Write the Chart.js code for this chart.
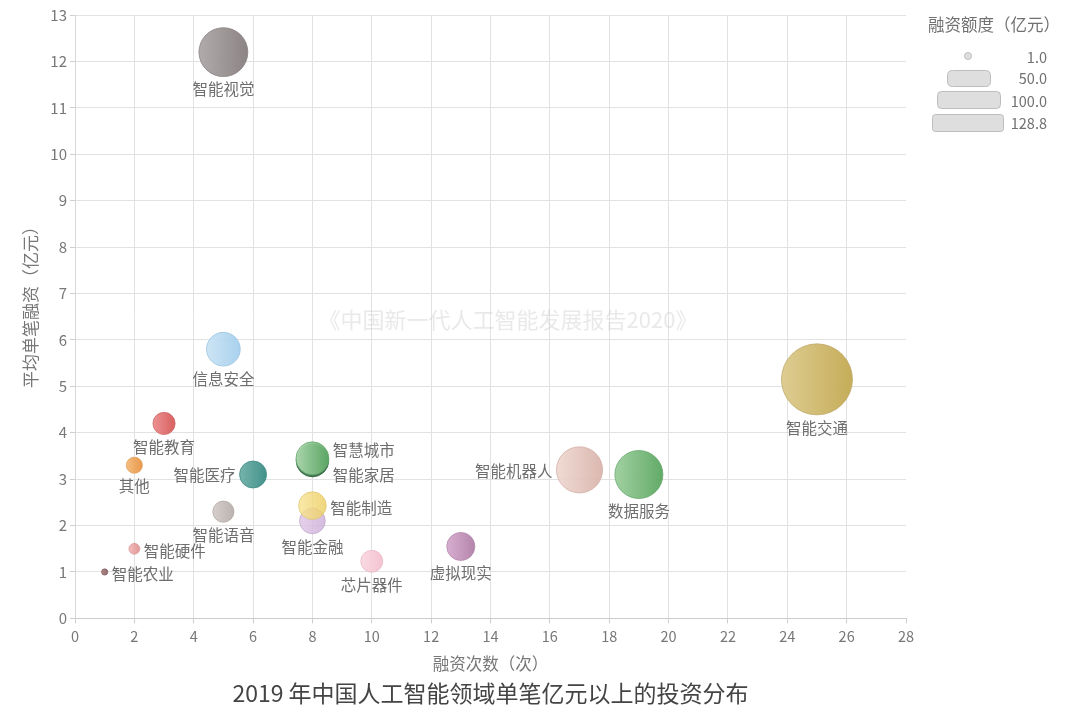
<!DOCTYPE html>
<html>
<head>
<meta charset="utf-8">
<script src="https://cdn.jsdelivr.net/npm/chart.js@4.4.1/dist/chart.umd.min.js"></script>
<style>
html,body{margin:0;padding:0;background:#fff;}
#wrap{width:1080px;height:712px;position:relative;}
</style>
</head>
<body>
<div id="wrap"><canvas id="c" width="1080" height="712"></canvas></div>
<script>
// ---- data ----
const categories = ['智能家居','智慧城市','智能视觉','信息安全','智能教育','其他','智能医疗','智能金融','智能制造','智能语音','智能硬件','智能农业','芯片器件','虚拟现实','智能机器人','数据服务','智能交通'];
const dealCounts = [8, 8, 5, 5, 3, 2, 6, 8, 8, 5, 2, 1, 10, 13, 17, 19, 25];
const avgAmounts = [3.40, 3.45, 12.2, 5.8, 4.2, 3.3, 3.1, 2.1, 2.43, 2.3, 1.5, 1.0, 1.23, 1.55, 3.2, 3.1, 5.15];
const xTicks = [0,2,4,6,8,10,12,14,16,18,20,22,24,26,28];
const yTicks = [0,1,2,3,4,5,6,7,8,9,10,11,12,13];
const legendValues = [1.0, 50.0, 100.0, 128.8];

// ---- styles ----
const FONT = '"Noto Sans CJK SC", "Noto Sans", sans-serif';
const colorStops = [
  ['rgba(70,120,80,0.95)','rgba(50,100,65,0.95)'],
  ['rgba(178,220,180,0.92)','rgba(92,170,100,0.92)'],
  ['rgba(172,166,166,0.95)','rgba(134,126,126,0.95)'],
  ['rgba(200,226,244,0.9)','rgba(160,204,236,0.9)'],
  ['rgba(236,140,140,0.95)','rgba(214,88,88,0.95)'],
  ['rgba(244,186,120,0.95)','rgba(232,146,66,0.95)'],
  ['rgba(110,176,168,0.95)','rgba(58,140,132,0.95)'],
  ['rgba(224,200,232,0.85)','rgba(204,176,216,0.85)'],
  ['rgba(248,228,150,0.82)','rgba(236,206,96,0.82)'],
  ['rgba(212,204,200,0.95)','rgba(182,174,170,0.95)'],
  ['rgba(244,184,184,0.95)','rgba(224,146,146,0.95)'],
  ['rgba(170,130,130,0.95)','rgba(140,100,100,0.95)'],
  ['rgba(250,214,224,0.9)','rgba(242,188,204,0.9)'],
  ['rgba(214,170,206,0.95)','rgba(176,126,166,0.95)'],
  ['rgba(238,216,208,0.92)','rgba(216,178,170,0.92)'],
  ['rgba(156,206,156,0.95)','rgba(90,166,96,0.95)'],
  ['rgba(220,202,140,0.95)','rgba(194,168,80,0.95)']
];
const borderCols = ['#2f6a40','#6aa870','#8a8282','#9cc4e0','#d07070','#e0a060','#3f8a84','#c0a8cc','#e0c870','#b4aca8','#d89c9c','#8a6a6a','#e8b8c6','#b48cac','#d4b0a8','#6aaa70','#c0aa6a'];
// label placement: b = below, r = right, l = left, ru = right-up, rd = right-down
const labelPlace = ['rd','ru','b','b','b','b','l','b','r','b','r','r','b','b','l','b','b'];

const RADIUS_K = 35.5 / Math.sqrt(128.8);

const points = categories.map((n, i) => ({
  x: dealCounts[i],
  y: avgAmounts[i],
  r: RADIUS_K * Math.sqrt(dealCounts[i] * avgAmounts[i])
}));

const bubbleLabels = {
  id: 'bubbleLabels',
  afterDatasetsDraw(chart) {
    const ctx = chart.ctx;
    const meta = chart.getDatasetMeta(0);
    ctx.save();
    ctx.font = '15.5px ' + FONT;
    ctx.fillStyle = '#6e6e6e';
    meta.data.forEach((el, i) => {
      const r = el.options.radius;
      const p = labelPlace[i];
      const t = categories[i];
      if (p === 'b') {
        ctx.textAlign = 'center'; ctx.textBaseline = 'middle';
        ctx.fillText(t, el.x, el.y + r + 13);
      } else if (p === 'r') {
        ctx.textAlign = 'left'; ctx.textBaseline = 'middle';
        ctx.fillText(t, el.x + r + 4, el.y + 2);
      } else if (p === 'l') {
        ctx.textAlign = 'right'; ctx.textBaseline = 'middle';
        ctx.fillText(t, el.x - r - 4, el.y + 1);
      } else if (p === 'ru') {
        ctx.textAlign = 'left'; ctx.textBaseline = 'middle';
        ctx.fillText(t, el.x + r + 4, el.y - 8);
      } else if (p === 'rd') {
        ctx.textAlign = 'left'; ctx.textBaseline = 'middle';
        ctx.fillText(t, el.x + r + 4, el.y + 15);
      }
    });
    ctx.restore();
  }
};

const watermark = {
  id: 'watermark',
  beforeDatasetsDraw(chart) {
    const ctx = chart.ctx;
    ctx.save();
    ctx.font = '22px ' + FONT;
    ctx.fillStyle = 'rgba(200,200,200,0.4)';
    ctx.textAlign = 'center'; ctx.textBaseline = 'middle';
    ctx.fillText('《中国新一代人工智能发展报告2020》', 508, 320);
    ctx.restore();
  }
};

const yTitle = {
  id: 'yTitle',
  afterDraw(chart) {
    const ctx = chart.ctx;
    ctx.save();
    ctx.translate(31, 303);
    ctx.rotate(-Math.PI / 2);
    ctx.font = '17px ' + FONT;
    ctx.fillStyle = '#777';
    ctx.textAlign = 'center'; ctx.textBaseline = 'middle';
    ctx.fillText('平均单笔融资（亿元）', 0, 0);
    ctx.restore();
  }
};

function roundRect(ctx, x, y, w, h, rad) {
  ctx.beginPath();
  ctx.moveTo(x + rad, y);
  ctx.lineTo(x + w - rad, y);
  ctx.quadraticCurveTo(x + w, y, x + w, y + rad);
  ctx.lineTo(x + w, y + h - rad);
  ctx.quadraticCurveTo(x + w, y + h, x + w - rad, y + h);
  ctx.lineTo(x + rad, y + h);
  ctx.quadraticCurveTo(x, y + h, x, y + h - rad);
  ctx.lineTo(x, y + rad);
  ctx.quadraticCurveTo(x, y, x + rad, y);
  ctx.closePath();
}

const sizeLegend = {
  id: 'sizeLegend',
  afterDraw(chart) {
    const ctx = chart.ctx;
    ctx.save();
    ctx.font = '16.5px ' + FONT;
    ctx.fillStyle = '#707070';
    ctx.textAlign = 'left'; ctx.textBaseline = 'middle';
    ctx.fillText('融资额度（亿元）', 928, 25);
    const shapes = [[965, 53, 6, 6, 3], [947, 70, 43, 16, 5], [937, 91, 63, 17, 4], [932, 114, 71, 17, 3]];
    const rowY = [57, 78, 101, 123];
    legendValues.forEach((v, i) => {
      const s = shapes[i];
      ctx.fillStyle = '#dedede';
      ctx.strokeStyle = '#bdbdbd';
      ctx.lineWidth = 1;
      if (i === 0) {
        ctx.beginPath(); ctx.arc(968, 56, 3.5, 0, Math.PI * 2); ctx.fill(); ctx.stroke();
      } else {
        roundRect(ctx, s[0] + 0.5, s[1] + 0.5, s[2], s[3], s[4]);
        ctx.fill(); ctx.stroke();
      }
      ctx.fillStyle = '#707070';
      ctx.textAlign = 'right';
      ctx.font = '14.5px ' + FONT;
      ctx.fillText(v.toFixed(1), 1047, rowY[i]);
    });
    ctx.restore();
  }
};

new Chart(document.getElementById('c'), {
  type: 'bubble',
  data: {
    datasets: [{
      data: points,
      backgroundColor: (c) => {
        const i = c.dataIndex;
        if (c.type !== 'data' || i === undefined) return 'rgba(0,0,0,0)';
        const chart = c.chart;
        const xs = chart.scales && chart.scales.x;
        const px = xs ? xs.getPixelForValue(dealCounts[i]) : NaN;
        const r = points[i].r;
        if (!isFinite(px) || !isFinite(r)) return colorStops[i][0];
        const g = chart.ctx.createLinearGradient(px - r, 0, px + r, 0);
        g.addColorStop(0, colorStops[i][0]);
        g.addColorStop(1, colorStops[i][1]);
        return g;
      },
      borderColor: borderCols,
      borderWidth: 0.8,
      hoverRadius: 0
    }]
  },
  options: {
    responsive: false,
    animation: false,
    events: [],
    layout: { autoPadding: false, padding: { left: 0, right: 174, top: 15, bottom: 0 } },
    scales: {
      x: {
        type: 'linear', min: 0, max: 28,
        afterBuildTicks: (s) => { s.ticks = xTicks.map(v => ({ value: v })); },
        afterFit: (s) => { s.height = 59; },
        ticks: { color: '#777', font: { size: 14.5, family: FONT }, padding: 4, maxRotation: 0, autoSkip: false },
        grid: { color: (c) => (c.tick && c.tick.value === 28) ? 'rgba(0,0,0,0)' : '#e2e2e2', tickColor: '#cfcfcf', tickLength: 5, lineWidth: 1 },
        border: { color: '#cccccc' },
        title: { display: true, text: '融资次数（次）', color: '#777', font: { size: 16.5, family: FONT }, padding: { top: 0, bottom: 4 } }
      },
      y: {
        type: 'linear', min: 0, max: 13,
        afterBuildTicks: (s) => { s.ticks = yTicks.map(v => ({ value: v })); },
        afterFit: (s) => { s.width = 75; },
        ticks: { color: '#777', font: { size: 15, family: FONT }, padding: 3, autoSkip: false },
        grid: { color: '#e2e2e2', tickColor: '#cfcfcf', tickLength: 5 },
        border: { color: '#d8d8d8' },
        title: { display: false }
      }
    },
    plugins: {
      legend: { display: false },
      tooltip: { enabled: false },
      title: {
        display: true, position: 'bottom', fullSize: false,
        text: '2019 年中国人工智能领域单笔亿元以上的投资分布',
        color: '#444', font: { size: 23, family: FONT, weight: 'normal' },
        padding: { top: 2, bottom: 5 }
      }
    }
  },
  plugins: [watermark, bubbleLabels, sizeLegend, yTitle]
});
</script>
</body>
</html>
